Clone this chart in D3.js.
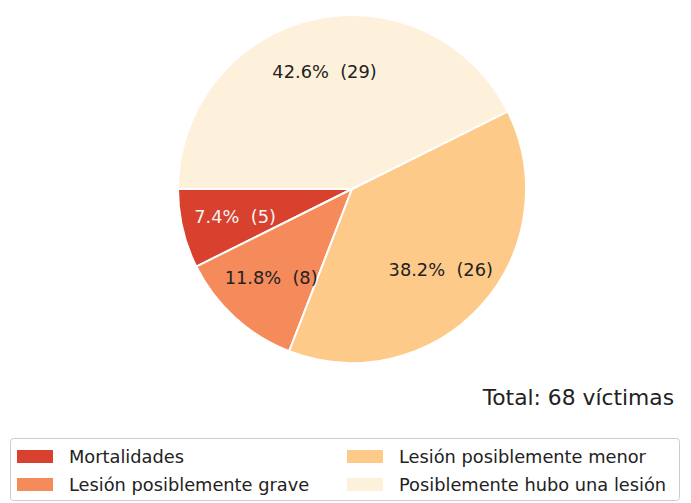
<!DOCTYPE html>
<html lang="es">
<head>
  <meta charset="UTF-8">
  <title>Víctimas por tipo de lesión</title>
  <script src="https://d3js.org/d3.v7.min.js"></script>
  <style>
    body { margin: 0; background: #fff; font-family: "DejaVu Sans", sans-serif; }
    svg text { font-family: "DejaVu Sans", sans-serif; }
  </style>
</head>
<body>
  <svg width="691" height="503"></svg>
  <script>
    // data
    const categories = ["Mortalidades", "Lesión posiblemente grave", "Lesión posiblemente menor", "Posiblemente hubo una lesión"];
    const counts = [5, 8, 26, 29];
    const colors = ["#d8412e", "#f58a5a", "#fdca8a", "#fef1dc"];
    const labelColors = ["#f4f4f4", "#222", "#222", "#222"];
    const totalLabel = "Total: 68 víctimas";

    const svg = d3.select("svg");
    const cx = 352, cy = 189, r = 174;
    const total = d3.sum(counts);

    // matplotlib style: start at 9 o'clock, counterclockwise
    const pie = d3.pie().sort(null).value(d => d)
      .startAngle(1.5 * Math.PI).endAngle(-0.5 * Math.PI);
    const arcs = pie(counts);
    const arc = d3.arc().innerRadius(0).outerRadius(r);
    const labelArc = d3.arc().innerRadius(r * 0.69).outerRadius(r * 0.69);

    const g = svg.append("g").attr("transform", `translate(${cx},${cy})`);

    g.selectAll("path")
      .data(arcs)
      .join("path")
      .attr("d", arc)
      .attr("fill", (d, i) => colors[i])
      .attr("stroke", "#fff")
      .attr("stroke-width", 2)
      .attr("stroke-linejoin", "round");

    g.selectAll("text.pct")
      .data(arcs)
      .join("text")
      .attr("class", "pct")
      .attr("transform", d => `translate(${labelArc.centroid(d)})`)
      .attr("text-anchor", "middle")
      .attr("dy", "0.35em")
      .attr("font-size", 17.8)
      .attr("fill", (d, i) => labelColors[i])
      .style("white-space", "pre")
      .text(d => `${(d.data / total * 100).toFixed(1)}%  (${d.data})`);

    svg.append("text")
      .attr("x", 674)
      .attr("y", 397)
      .attr("dy", "0.35em")
      .attr("text-anchor", "end")
      .attr("font-size", 21.8)
      .attr("fill", "#222")
      .text(totalLabel);

    // legend, two columns
    const legend = svg.append("g");
    legend.append("rect")
      .attr("x", 10.5).attr("y", 438.5)
      .attr("width", 669).attr("height", 62)
      .attr("rx", 3)
      .attr("fill", "#fff")
      .attr("stroke", "#ccc");

    const colX = [17, 347];
    const rowY = [457, 485];
    const items = legend.selectAll("g.item")
      .data(categories)
      .join("g")
      .attr("class", "item")
      .attr("transform", (d, i) => `translate(${colX[Math.floor(i / 2)]},${rowY[i % 2]})`);

    items.append("rect")
      .attr("x", 0).attr("y", -7)
      .attr("width", 36).attr("height", 13)
      .attr("fill", (d, i) => colors[i]);

    items.append("text")
      .attr("x", 52)
      .attr("dy", "0.35em")
      .attr("font-size", 17.8)
      .attr("fill", "#222")
      .text(d => d);
  </script>
</body>
</html>
